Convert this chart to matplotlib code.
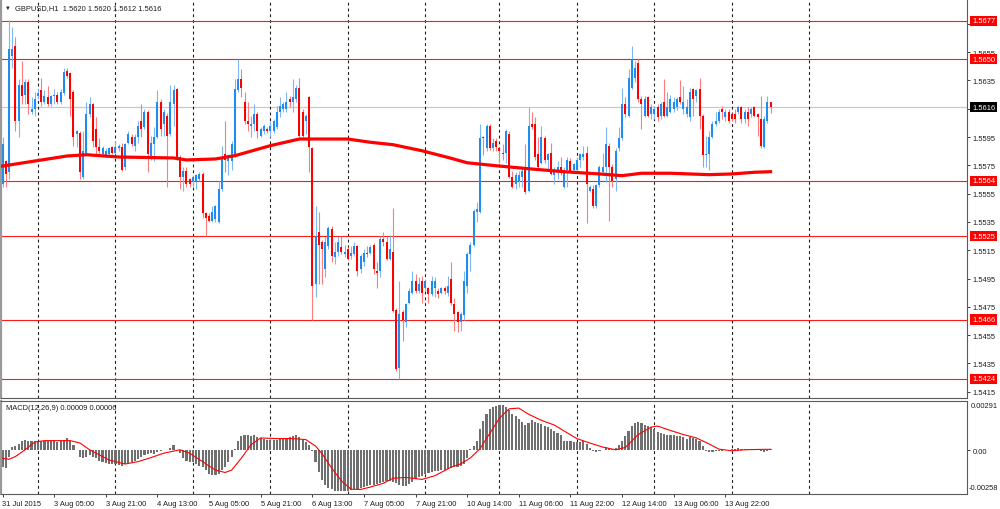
import numpy as np
import matplotlib.pyplot as plt
from matplotlib.transforms import blended_transform_factory as blend

plt.rcParams['font.family'] = ['Liberation Sans', 'DejaVu Sans']

# GBPUSD H1 candles, first bar 31 Jul 2015 13:00
opens = [1.5562, 1.5578, 1.5570, 1.5652, 1.5659, 1.5606, 1.5632, 1.5625, 1.5634, 1.5613,
         1.5615, 1.5624, 1.5628, 1.5620, 1.5623, 1.5618, 1.5624, 1.5625, 1.5620, 1.5626,
         1.5642, 1.5640, 1.5627, 1.5597, 1.5598, 1.5567, 1.5584, 1.5611, 1.5618, 1.5601,
         1.5588, 1.5583, 1.5582, 1.5583, 1.5588, 1.5584, 1.5587, 1.5588, 1.5574, 1.5591,
         1.5595, 1.5589, 1.5595, 1.5606, 1.5602, 1.5613, 1.5581, 1.5590, 1.5595, 1.5620,
         1.5604, 1.5610, 1.5597, 1.5618, 1.5629, 1.5581, 1.5567, 1.5571, 1.5565, 1.5564,
         1.5563, 1.5565, 1.5569, 1.5541, 1.5539, 1.5536, 1.5537, 1.5535, 1.5558, 1.5583,
         1.5578, 1.5578, 1.5582, 1.5628, 1.5636, 1.5620, 1.5606, 1.5603, 1.5604, 1.5611,
         1.5596, 1.5599, 1.5601, 1.5599, 1.5599, 1.5602, 1.5613, 1.5615, 1.5615, 1.5622,
         1.5620, 1.5622, 1.5630, 1.5613, 1.5606, 1.5623, 1.5587, 1.5491, 1.5528, 1.5521,
         1.5502, 1.5518, 1.5530, 1.5510, 1.5514, 1.5517, 1.5512, 1.5516, 1.5511, 1.5512,
         1.5518, 1.5502, 1.5507, 1.5513, 1.5513, 1.5519, 1.5500, 1.5500, 1.5523, 1.5521,
         1.5509, 1.5514, 1.5473, 1.5432, 1.5471, 1.5464, 1.5478, 1.5485, 1.5493, 1.5486,
         1.5493, 1.5488, 1.5488, 1.5484, 1.5488, 1.5486, 1.5485, 1.5488, 1.5485, 1.5495,
         1.5477, 1.5471, 1.5464, 1.5469, 1.5490, 1.5512, 1.5519, 1.5542, 1.5542, 1.5595,
         1.5587, 1.5603, 1.5587, 1.5592, 1.5587, 1.5584, 1.5584, 1.5597, 1.5567, 1.5562,
         1.5564, 1.5567, 1.5572, 1.5557, 1.5604, 1.5604, 1.5583, 1.5577, 1.5594, 1.5579,
         1.5584, 1.5568, 1.5570, 1.5574, 1.5560, 1.5572, 1.5578, 1.5572, 1.5572, 1.5579,
         1.5581, 1.5584, 1.5557, 1.5558, 1.5546, 1.5561, 1.5570, 1.5574, 1.5589, 1.5574,
         1.5565, 1.5587, 1.5594, 1.5618, 1.5610, 1.5630, 1.5637, 1.5647, 1.5622, 1.5610,
         1.5623, 1.5611, 1.5611, 1.5616, 1.5610, 1.5620, 1.5610, 1.5613, 1.5615, 1.5616,
         1.5623, 1.5615, 1.5611, 1.5609, 1.5629, 1.5624, 1.5629, 1.5610, 1.5582, 1.5583,
         1.5595, 1.5604, 1.5606, 1.5615, 1.5609, 1.5613, 1.5611, 1.5611, 1.5613, 1.5616,
         1.5608, 1.5613, 1.5611, 1.5616, 1.5611, 1.5608, 1.5588, 1.5606, 1.5620]
highs = [1.5595, 1.5579, 1.5678, 1.5673, 1.5666, 1.5636, 1.5649, 1.5636, 1.5636, 1.5623,
         1.5627, 1.5629, 1.5637, 1.5628, 1.5631, 1.5625, 1.5629, 1.5627, 1.5629, 1.5644,
         1.5644, 1.5641, 1.5628, 1.5600, 1.5599, 1.5599, 1.5620, 1.5623, 1.5619, 1.5609,
         1.5594, 1.5589, 1.5587, 1.5588, 1.5589, 1.5592, 1.5590, 1.5591, 1.5591, 1.5599,
         1.5597, 1.5597, 1.5606, 1.5618, 1.5615, 1.5614, 1.5596, 1.5602, 1.5628, 1.5622,
         1.5615, 1.5612, 1.5632, 1.5632, 1.5630, 1.5582, 1.5574, 1.5574, 1.5566, 1.5568,
         1.5569, 1.5570, 1.5570, 1.5542, 1.5541, 1.5546, 1.5547, 1.5564, 1.5589, 1.5606,
         1.5583, 1.5592, 1.5636, 1.5650, 1.5643, 1.5627, 1.5620, 1.5610, 1.5618, 1.5613,
         1.5602, 1.5604, 1.5602, 1.5606, 1.5608, 1.5617, 1.5623, 1.5620, 1.5627, 1.5624,
         1.5636, 1.5632, 1.5637, 1.5615, 1.5611, 1.5624, 1.5588, 1.5546, 1.5542, 1.5522,
         1.5524, 1.5532, 1.5532, 1.5521, 1.5524, 1.5525, 1.5519, 1.5517, 1.5518, 1.5521,
         1.5519, 1.5512, 1.5516, 1.5518, 1.5519, 1.5520, 1.5507, 1.5525, 1.5528, 1.5524,
         1.5526, 1.5545, 1.5474, 1.5493, 1.5473, 1.5478, 1.5488, 1.5500, 1.5498, 1.5496,
         1.5497, 1.5495, 1.5489, 1.5497, 1.5496, 1.5488, 1.5489, 1.5490, 1.5497, 1.5507,
         1.5481, 1.5472, 1.5471, 1.5500, 1.5514, 1.5521, 1.5544, 1.5549, 1.5604, 1.5596,
         1.5604, 1.5604, 1.5594, 1.5594, 1.5588, 1.5590, 1.5601, 1.5599, 1.5571, 1.5570,
         1.5571, 1.5574, 1.5590, 1.5616, 1.5613, 1.5609, 1.5595, 1.5603, 1.5596, 1.5584,
         1.5591, 1.5574, 1.5578, 1.5581, 1.5574, 1.5581, 1.5580, 1.5577, 1.5581, 1.5584,
         1.5589, 1.5589, 1.5561, 1.5561, 1.5562, 1.5575, 1.5584, 1.5602, 1.5591, 1.5576,
         1.5587, 1.5602, 1.5630, 1.5623, 1.5643, 1.5659, 1.5649, 1.5650, 1.5624, 1.5624,
         1.5624, 1.5618, 1.5617, 1.5618, 1.5620, 1.5636, 1.5627, 1.5625, 1.5623, 1.5623,
         1.5635, 1.5631, 1.5622, 1.5630, 1.5630, 1.5629, 1.5637, 1.5611, 1.5596, 1.5599,
         1.5606, 1.5613, 1.5615, 1.5617, 1.5615, 1.5615, 1.5612, 1.5615, 1.5617, 1.5617,
         1.5615, 1.5616, 1.5616, 1.5617, 1.5612, 1.5624, 1.5610, 1.5624, 1.5620]
lows = [1.5560, 1.5560, 1.5565, 1.5644, 1.5599, 1.5595, 1.5618, 1.5618, 1.5611, 1.5611,
        1.5610, 1.5622, 1.5617, 1.5618, 1.5617, 1.5617, 1.5618, 1.5618, 1.5618, 1.5625,
        1.5637, 1.5610, 1.5589, 1.5588, 1.5565, 1.5565, 1.5583, 1.5609, 1.5588, 1.5583,
        1.5583, 1.5581, 1.5581, 1.5582, 1.5583, 1.5583, 1.5585, 1.5571, 1.5572, 1.5590,
        1.5589, 1.5585, 1.5591, 1.5595, 1.5601, 1.5570, 1.5579, 1.5578, 1.5594, 1.5596,
        1.5596, 1.5560, 1.5596, 1.5603, 1.5579, 1.5558, 1.5557, 1.5560, 1.5560, 1.5560,
        1.5558, 1.5564, 1.5538, 1.5525, 1.5535, 1.5535, 1.5535, 1.5534, 1.5557, 1.5570,
        1.5568, 1.5572, 1.5581, 1.5627, 1.5623, 1.5604, 1.5599, 1.5595, 1.5599, 1.5594,
        1.5595, 1.5597, 1.5598, 1.5595, 1.5598, 1.5601, 1.5609, 1.5613, 1.5613, 1.5616,
        1.5613, 1.5620, 1.5595, 1.5594, 1.5597, 1.5570, 1.5466, 1.5482, 1.5491, 1.5491,
        1.5496, 1.5516, 1.5507, 1.5505, 1.5511, 1.5512, 1.5510, 1.5508, 1.5509, 1.5511,
        1.5497, 1.5499, 1.5504, 1.5510, 1.5512, 1.5498, 1.5488, 1.5496, 1.5518, 1.5508,
        1.5508, 1.5471, 1.5430, 1.5424, 1.5451, 1.5461, 1.5477, 1.5484, 1.5485, 1.5485,
        1.5478, 1.5486, 1.5478, 1.5483, 1.5482, 1.5481, 1.5484, 1.5484, 1.5483, 1.5476,
        1.5458, 1.5457, 1.5458, 1.5466, 1.5485, 1.5500, 1.5518, 1.5535, 1.5541, 1.5582,
        1.5585, 1.5586, 1.5585, 1.5585, 1.5577, 1.5579, 1.5577, 1.5566, 1.5559, 1.5558,
        1.5560, 1.5560, 1.5555, 1.5556, 1.5601, 1.5579, 1.5573, 1.5576, 1.5577, 1.5571,
        1.5568, 1.5562, 1.5565, 1.5568, 1.5559, 1.5560, 1.5570, 1.5571, 1.5571, 1.5574,
        1.5579, 1.5534, 1.5556, 1.5545, 1.5545, 1.5560, 1.5569, 1.5563, 1.5536, 1.5560,
        1.5557, 1.5585, 1.5593, 1.5609, 1.5609, 1.5629, 1.5634, 1.5620, 1.5601, 1.5609,
        1.5609, 1.5608, 1.5608, 1.5606, 1.5608, 1.5609, 1.5609, 1.5612, 1.5613, 1.5614,
        1.5618, 1.5611, 1.5609, 1.5606, 1.5610, 1.5620, 1.5601, 1.5574, 1.5574, 1.5572,
        1.5594, 1.5603, 1.5605, 1.5608, 1.5606, 1.5605, 1.5606, 1.5605, 1.5611, 1.5605,
        1.5605, 1.5603, 1.5609, 1.5609, 1.5596, 1.5587, 1.5587, 1.5605, 1.5612]
closes = [1.5590, 1.5569, 1.5657, 1.5657, 1.5606, 1.5632, 1.5624, 1.5634, 1.5618, 1.5615,
          1.5622, 1.5626, 1.5620, 1.5624, 1.5618, 1.5624, 1.5625, 1.5620, 1.5627, 1.5641,
          1.5638, 1.5622, 1.5595, 1.5599, 1.5570, 1.5585, 1.5611, 1.5618, 1.5592, 1.5588,
          1.5585, 1.5587, 1.5585, 1.5587, 1.5584, 1.5588, 1.5589, 1.5572, 1.5590, 1.5597,
          1.5590, 1.5595, 1.5603, 1.5601, 1.5613, 1.5583, 1.5591, 1.5595, 1.5620, 1.5601,
          1.5613, 1.5596, 1.5620, 1.5628, 1.5581, 1.5567, 1.5571, 1.5562, 1.5562, 1.5567,
          1.5568, 1.5569, 1.5541, 1.5538, 1.5536, 1.5542, 1.5546, 1.5558, 1.5580, 1.5579,
          1.5582, 1.5590, 1.5629, 1.5636, 1.5630, 1.5606, 1.5604, 1.5604, 1.5611, 1.5599,
          1.5601, 1.5603, 1.5599, 1.5603, 1.5606, 1.5613, 1.5617, 1.5618, 1.5620, 1.5620,
          1.5623, 1.5630, 1.5596, 1.5596, 1.5610, 1.5588, 1.5490, 1.5525, 1.5519, 1.5516,
          1.5521, 1.5531, 1.5511, 1.5514, 1.5521, 1.5514, 1.5514, 1.5509, 1.5513, 1.5518,
          1.5500, 1.5511, 1.5513, 1.5512, 1.5517, 1.5502, 1.5499, 1.5523, 1.5521, 1.5509,
          1.5516, 1.5472, 1.5431, 1.5470, 1.5466, 1.5477, 1.5486, 1.5493, 1.5486, 1.5491,
          1.5485, 1.5493, 1.5484, 1.5493, 1.5493, 1.5484, 1.5488, 1.5486, 1.5490, 1.5478,
          1.5470, 1.5464, 1.5470, 1.5493, 1.5512, 1.5519, 1.5543, 1.5544, 1.5594, 1.5594,
          1.5603, 1.5587, 1.5591, 1.5588, 1.5585, 1.5583, 1.5599, 1.5567, 1.5560, 1.5568,
          1.5568, 1.5571, 1.5556, 1.5603, 1.5602, 1.5581, 1.5574, 1.5595, 1.5579, 1.5583,
          1.5569, 1.5571, 1.5574, 1.5571, 1.5571, 1.5579, 1.5571, 1.5576, 1.5579, 1.5583,
          1.5583, 1.5562, 1.5560, 1.5546, 1.5561, 1.5574, 1.5574, 1.5590, 1.5574, 1.5564,
          1.5585, 1.5594, 1.5618, 1.5611, 1.5637, 1.5650, 1.5644, 1.5622, 1.5618, 1.5622,
          1.5610, 1.5616, 1.5615, 1.5609, 1.5618, 1.5610, 1.5616, 1.5622, 1.5620, 1.5622,
          1.5620, 1.5620, 1.5616, 1.5627, 1.5622, 1.5628, 1.5610, 1.5582, 1.5583, 1.5595,
          1.5604, 1.5606, 1.5613, 1.5613, 1.5613, 1.5606, 1.5608, 1.5608, 1.5616, 1.5608,
          1.5613, 1.5608, 1.5615, 1.5610, 1.5609, 1.5589, 1.5608, 1.5620, 1.5616]

# red moving average, read at a few bars
ma_bars = [0, 20, 26, 36, 53, 57, 66, 72, 83, 92, 107, 114, 121, 130, 139, 144,
           153, 164, 174, 185, 192, 198, 207, 219, 226, 233, 238]
ma_vals = [1.55745, 1.55816, 1.55825, 1.55809, 1.55802, 1.55788, 1.55795, 1.55818,
           1.55889, 1.55936, 1.55936, 1.55913, 1.55896, 1.55853, 1.55800, 1.55768,
           1.55747, 1.55724, 1.55705, 1.55689, 1.55677, 1.55694, 1.55694, 1.55684,
           1.55689, 1.55701, 1.55705]

levels = [1.5677, 1.5650, 1.5564, 1.5525, 1.5466, 1.5424]

macd_hist = [-0.00097, -0.00107, -0.00037, 0.00017, 0.00023, 0.00037, 0.00053, 0.00063, 0.00057, 0.00057,
             0.00057, 0.00057, 0.00057, 0.00057, 0.00057, 0.00053, 0.00053, 0.00047, 0.00057, 0.00063,
             0.00073, 0.00057, 0.00029, 0.00003, -0.00037, -0.00047, -0.00037, -0.00027, -0.00037, -0.00047,
             -0.00063, -0.00071, -0.00077, -0.00083, -0.00083, -0.00083, -0.00087, -0.00091, -0.00083, -0.00077,
             -0.00071, -0.00063, -0.00051, -0.00037, -0.00027, -0.00023, -0.00017, -0.00023, -0.00011, -0.00003,
             0.00001, 0.00003, 0.00013, 0.00033, 0.00003, -0.00017, -0.00047, -0.00063, -0.00071, -0.00067,
             -0.00083, -0.00091, -0.00097, -0.00117, -0.00137, -0.00147, -0.00147, -0.00137, -0.00117, -0.00097,
             -0.00067, -0.00037, 0.00009, 0.00053, 0.00083, 0.00089, 0.00089, 0.00087, 0.00089, 0.00077,
             0.00073, 0.00067, 0.00063, 0.00063, 0.00063, 0.00063, 0.00069, 0.00073, 0.00073, 0.00081,
             0.00087, 0.00089, 0.00077, 0.00063, 0.00049, 0.00033, -0.00007, -0.00067, -0.00127, -0.00177,
             -0.00207, -0.00223, -0.00231, -0.00239, -0.00241, -0.00241, -0.00241, -0.00239, -0.00235, -0.00231,
             -0.00227, -0.00223, -0.00217, -0.00213, -0.00207, -0.00203, -0.00197, -0.00191, -0.00187, -0.00183,
             -0.00180, -0.00185, -0.00195, -0.00205, -0.00212, -0.00210, -0.00200, -0.00185, -0.00170, -0.00160,
             -0.00150, -0.00140, -0.00132, -0.00127, -0.00125, -0.00122, -0.00118, -0.00115, -0.00110, -0.00105,
             -0.00100, -0.00098, -0.00095, -0.00080, -0.00045, 0.00007, 0.00027, 0.00057, 0.00123, 0.00173,
             0.00217, 0.00243, 0.00257, 0.00263, 0.00269, 0.00265, 0.00253, 0.00237, 0.00217, 0.00203,
             0.00183, 0.00167, 0.00149, 0.00163, 0.00177, 0.00169, 0.00163, 0.00157, 0.00143, 0.00137,
             0.00127, 0.00113, 0.00103, 0.00093, 0.00053, 0.00057, 0.00053, 0.00049, 0.00049, 0.00049,
             0.00057, 0.00037, 0.00013, -0.00007, -0.00011, -0.00007, 0.00003, 0.00017, 0.00013, 0.00009,
             0.00013, 0.00033, 0.00057, 0.00083, 0.00113, 0.00143, 0.00163, 0.00169, 0.00163, 0.00149,
             0.00143, 0.00137, 0.00123, 0.00109, 0.00103, 0.00097, 0.00093, 0.00093, 0.00089, 0.00087,
             0.00083, 0.00077, 0.00069, 0.00077, 0.00073, 0.00069, 0.00057, 0.00023, -0.00007, -0.00011,
             -0.00011, -0.00007, -0.00007, -0.00003, -0.00001, 0.00003, 0.00007, 0.00009, 0.00013, 0.00009,
             0.00007, 0.00007, 0.00007, 0.00005, 0.00003, -0.00007, -0.00011, -0.00003, 0.00009]

sig_bars = [0, 2, 4, 7, 10, 13, 21, 24, 27, 30, 33, 38, 42, 46, 50, 55, 58, 62, 66, 69,
            71, 74, 77, 80, 85, 90, 94, 97, 99, 102, 105, 108, 111, 114, 118, 121, 125, 130, 134, 139,
            142, 145, 148, 151, 154, 157, 160, 163, 167, 171, 175, 178, 182, 186, 190, 193, 197, 201, 203, 207,
            211, 215, 219, 222, 226, 230, 234, 238]
sig_vals = [-0.00047, -0.00053, -0.00037, 0.00003, 0.00049, 0.00057, 0.00057, 0.00043, 0.00003, -0.00027,
            -0.00057, -0.00081, -0.00067, -0.00043, -0.00017, 0.00003, -0.00017, -0.00067, -0.00117, -0.00131,
            -0.00117, -0.00047, 0.00033, 0.00073, 0.00069, 0.00069, 0.00063, 0.00025, -0.00020, -0.00105,
            -0.00180, -0.00230, -0.00231, -0.00217, -0.00195, -0.00165, -0.00160, -0.00172, -0.00150, -0.00100,
            -0.00080, -0.00045, 0.00010, 0.00100, 0.00190, 0.00245, 0.00249, 0.00213, 0.00177, 0.00149,
            0.00103, 0.00069, 0.00043, 0.00019, 0.00003, 0.00017, 0.00093, 0.00137, 0.00143, 0.00117,
            0.00093, 0.00073, 0.00037, 0.00007, -0.00003, 0.00003, 0.00005, 0.00006]

time_labels = ['31 Jul 2015', '3 Aug 05:00', '3 Aug 21:00', '4 Aug 13:00', '5 Aug 05:00',
               '5 Aug 21:00', '6 Aug 13:00', '7 Aug 05:00', '7 Aug 21:00', '10 Aug 14:00',
               '11 Aug 06:00', '11 Aug 22:00', '12 Aug 14:00', '13 Aug 06:00', '13 Aug 22:00']
label_bars = list(range(0, 16 * len(time_labels), 16))
day_bars = [11, 35, 59, 83, 107, 131, 154, 178, 202, 226, 250]

W, H = 1000, 510
PX_BAR = 3.227
X0 = 2.5
FS = 5.4
TXT = '#1c1c1c'

fig = plt.figure(figsize=(W / 100, H / 100), dpi=100)
ax = fig.add_axes([1 / W, 1 - 399 / H, 966 / W, 398 / H])
mx = fig.add_axes([1 / W, 1 - 495 / H, 966 / W, 93 / H])

xlim = ((1 - X0) / PX_BAR, (967 - X0) / PX_BAR)
for a in (ax, mx):
    a.set_xlim(*xlim)
    for s in a.spines.values():
        s.set_color('#5a5a5a')
        s.set_linewidth(0.8)
    a.spines['left'].set_color('#9a9a9a')
    a.spines['left'].set_linewidth(1.6)
    for d in day_bars:
        a.axvline(d, color='#202020', lw=0.8, ls=(0, (2.6, 2.6)), zorder=0.6)
ax.spines['top'].set_visible(False)

ax.set_ylim(1.5677 - 377 / 14150, 1.5677 + 21 / 14150)

o = np.array(opens)
h = np.array(highs)
l = np.array(lows)
c = np.array(closes)
x = np.arange(len(o))
up = c >= o

ax.axhline(c[-1], color='#c9c9c9', lw=0.9, zorder=0.5)
for lv in levels:
    ax.axhline(lv, color='#ff1a1a', lw=0.8, zorder=0.7)

ax.vlines(x[up], l[up], h[up], color='#7db9f0', lw=0.8, zorder=1)
ax.vlines(x[~up], l[~up], h[~up], color='#ff7c7c', lw=0.8, zorder=1)
body_col = np.where(up, '#1e8cf0', '#ff0000')
ax.bar(x, np.maximum(np.abs(c - o), 0.00008), bottom=np.minimum(o, c),
       width=0.62, color=body_col, linewidth=0, zorder=2)
ax.plot(ma_bars, ma_vals, color='#ff0000', lw=2.3, zorder=3, solid_joinstyle='round')

# price scale; labels hidden where a level box sits on top of them
ax.yaxis.tick_right()
ticks = np.round(np.arange(1.5415, 1.5676, 0.0020), 4)
boxed = levels + [c[-1]]
ax.set_yticks(ticks)
ax.set_yticklabels(['' if min(abs(t - b) for b in boxed) < 0.0005 and t not in (1.5655, 1.5535, 1.5515, 1.5475, 1.5455, 1.5435, 1.5415, 1.5555)
                    else f'{t:.4f}' for t in ticks])
ax.tick_params(axis='y', labelsize=FS, length=2, width=0.6, pad=2, colors=TXT)
ax.set_xticks([])

tr = blend(fig.transFigure, ax.transData)
for lv in levels:
    fig.text(972 / W, lv, f'{lv:.4f}', transform=tr, color='white', fontsize=FS,
             va='center', ha='left',
             bbox=dict(boxstyle='square,pad=0.22', fc='#ff0000', ec='none'))
fig.text(972 / W, c[-1], f'{c[-1]:.4f}', transform=tr, color='white', fontsize=FS,
         va='center', ha='left',
         bbox=dict(boxstyle='square,pad=0.22', fc='#000000', ec='none'))

# MACD panel
hx = np.arange(len(macd_hist))
mx.bar(hx, macd_hist, width=0.66, color='#6f6f6f', linewidth=0, zorder=1)
mx.plot(sig_bars, sig_vals, color='#ff0000', lw=0.8, zorder=2)
mx.set_ylim(-0.00258, 0.00291)
mx.yaxis.tick_right()
mx.set_yticks([0])
mx.set_yticklabels(['0.00'])
mx.tick_params(axis='y', labelsize=FS, length=2, width=0.6, pad=2, colors=TXT)
mx.set_xticks(label_bars)
mx.set_xticklabels(time_labels, ha='left')
mx.tick_params(axis='x', labelsize=FS, length=2.5, width=0.6, pad=1.5, colors=TXT)

fig.text(971 / W, 1 - 407 / H, '0.00291', fontsize=FS, color=TXT, va='center', ha='left')
fig.text(969 / W, 1 - 489 / H, '-0.00258', fontsize=FS, color=TXT, va='center', ha='left')

fig.text(5 / W, 1 - 8.5 / H, '▼', fontsize=4.2, color=TXT, va='center', ha='left')
fig.text(15 / W, 1 - 8.5 / H, 'GBPUSD,H1  1.5620 1.5620 1.5612 1.5616',
         fontsize=FS, color=TXT, va='center', ha='left')
fig.text(6 / W, 1 - 408 / H, 'MACD(12,26,9) 0.00009 0.00006',
         fontsize=FS, color=TXT, va='center', ha='left')

fig.savefig('out.png', dpi=100, facecolor='white')
